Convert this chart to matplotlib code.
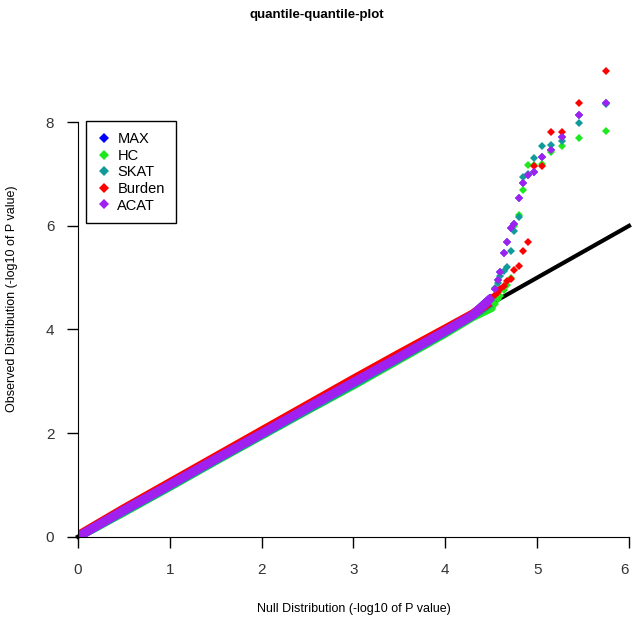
import matplotlib.pyplot as plt
import numpy as np

plt.rcParams['font.family'] = ['Liberation Sans', 'DejaVu Sans']

methods = ['MAX', 'HC', 'SKAT', 'Burden', 'ACAT']
colors = ['#0000FF', '#1EE81E', '#109A9A', '#FF0000', '#A020F0']

# bulk of the QQ curve (expected, observed)
bulk_x = [0.0, 0.5, 1.0, 1.5, 2.0, 2.5, 3.0, 3.5, 4.0, 4.3, 4.5]
bulk_y = {
    'MAX':    [0.00, 0.51, 1.00, 1.50, 1.99, 2.49, 2.98, 3.47, 3.97, 4.28, 4.60],
    'HC':     [0.00, 0.48, 0.97, 1.47, 1.96, 2.45, 2.93, 3.43, 3.93, 4.25, 4.42],
    'SKAT':   [0.00, 0.49, 0.98, 1.48, 1.97, 2.46, 2.95, 3.45, 3.95, 4.27, 4.52],
    'Burden': [0.02, 0.54, 1.04, 1.54, 2.04, 2.54, 3.04, 3.53, 4.01, 4.30, 4.55],
    'ACAT':   [0.00, 0.51, 1.00, 1.50, 1.99, 2.49, 2.98, 3.47, 3.97, 4.28, 4.60],
}

# top-ranked points (expected -log10 p by rank)
tail_x = [5.75, 5.45, 5.27, 5.15, 5.05, 4.97, 4.90, 4.85, 4.80, 4.75,
          4.71, 4.67, 4.64, 4.60, 4.57, 4.54]
tail_y = {
    'MAX':    [8.38, 8.14, 7.71, 7.47, 7.32, 7.03, 6.99, 6.83, 6.54, 6.04,
               5.95, 5.69, 5.48, 5.10, 4.95, 4.78],
    'HC':     [7.84, 7.70, 7.55, 7.42, 7.20, 7.18, 7.17, 6.70, 6.20, 6.00,
               5.00, 4.85, 4.77, 4.65, 4.58, 4.50],
    'SKAT':   [8.35, 7.99, 7.63, 7.57, 7.54, 7.30, 7.00, 6.94, 6.18, 5.90,
               5.52, 5.21, 5.13, 5.03, 4.90, 4.80],
    'Burden': [8.98, 8.37, 7.81, 7.81, 7.16, 7.16, 5.69, 5.52, 5.22, 5.14,
               4.98, 4.93, 4.84, 4.78, 4.72, 4.66],
    'ACAT':   [8.38, 8.14, 7.71, 7.47, 7.32, 7.03, 6.99, 6.83, 6.54, 6.04,
               5.95, 5.69, 5.48, 5.10, 4.95, 4.78],
}

diag = [0, 6]

fig = plt.figure(figsize=(6.33, 6.18), dpi=100)
ax = fig.add_axes([0.1232, 0.1316, 0.8705, 0.7712])

ax.plot(diag, diag, color='black', lw=3, zorder=1, clip_on=False)

for m, c in zip(methods, colors):
    ax.plot(bulk_x, bulk_y[m], color=c, lw=6.5, solid_capstyle='round', zorder=2)
    ax.plot(tail_x, tail_y[m], ls='none', marker='D', ms=4.5, color=c,
            markeredgewidth=0, zorder=3, label=m)

ax.set_xlim(0, 6)
ax.set_ylim(0, 9.2)
ax.set_xticks([0, 1, 2, 3, 4, 5, 6])
ax.set_yticks([0, 2, 4, 6, 8])
ax.spines['top'].set_visible(False)
ax.spines['right'].set_visible(False)
ax.spines['left'].set_bounds(0, 8)
ax.spines['bottom'].set_bounds(0, 6)
ax.tick_params(length=8, width=1, labelsize=11, colors='black')
ax.tick_params(axis='x', pad=11)
ax.tick_params(axis='y', pad=9)
for lab in ax.get_xticklabels() + ax.get_yticklabels():
    lab.set_color('#333333')
ax.get_xticklabels()[-1].set_horizontalalignment('right')

ax.set_xlabel('Null Distribution (-log10 of P value)', fontsize=9, labelpad=19)
ax.set_ylabel('Observed Distribution (-log10 of P value)', fontsize=9, labelpad=20)
fig.suptitle('quantile-quantile-plot', fontsize=9.5, fontweight='bold', y=0.985)

leg = ax.legend(loc='upper left', bbox_to_anchor=(0.0145, 0.872), fontsize=10.5,
                frameon=True, fancybox=False, edgecolor='black', framealpha=1,
                handletextpad=0.4, handlelength=1.0, borderpad=0.75,
                labelspacing=0.18, markerscale=1.2, borderaxespad=0)
leg.get_frame().set_linewidth(1)

fig.savefig('out.png', dpi=100)
